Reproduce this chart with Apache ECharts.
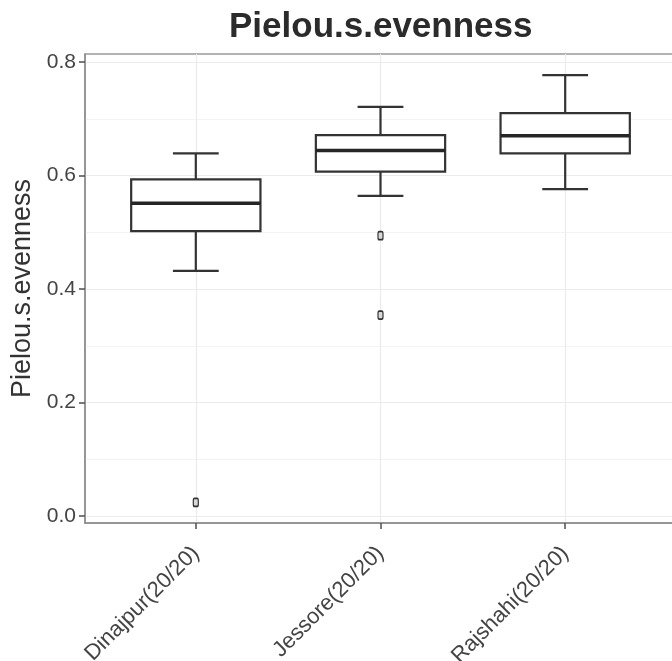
<!DOCTYPE html>
<html>
<head>
<meta charset="utf-8">
<script src="https://cdn.jsdelivr.net/npm/echarts@6/dist/echarts.min.js"></script>
<style>
html,body{margin:0;padding:0;background:#fff;}
#chart{width:672px;height:661px;}
</style>
</head>
<body>
<div id="chart"></div>
<script>
// ---- data ----
const categories = ['Dinajpur(20/20)', 'Jessore(20/20)', 'Rajshahi(20/20)'];
// [lower whisker, Q1, median, Q3, upper whisker]
const boxLower  = [0.432, 0.564, 0.576];
const boxQ1     = [0.502, 0.607, 0.639];
const boxMedian = [0.551, 0.644, 0.670];
const boxQ3     = [0.593, 0.671, 0.710];
const boxUpper  = [0.639, 0.721, 0.777];
// outliers: [category index, value]
const outlierCat = [0, 1, 1];
const outlierVal = [0.024, 0.494, 0.354];
const yTicks = [0.0, 0.2, 0.4, 0.6, 0.8];
const yMinor = [0.1, 0.3, 0.5, 0.7];
const titleText = 'Pielou.s.evenness';
const yName = 'Pielou.s.evenness';

const boxData = categories.map((c, i) => [i, boxLower[i], boxQ1[i], boxMedian[i], boxQ3[i], boxUpper[i]]);
const outlierData = outlierCat.map((c, i) => [c, outlierVal[i]]);
const catIdx = categories.map((c, i) => i);

const FONT = '"Liberation Sans", Arial, Helvetica, sans-serif';
const DARK = '#333333';
const YMIN = -0.01233, YMAX = 0.8141;

const chart = echarts.init(document.getElementById('chart'), null, {renderer: 'canvas'});

function renderBox(params, api) {
  const x = api.value(0);
  const lo = api.value(1), q1 = api.value(2), md = api.value(3), q3 = api.value(4), hi = api.value(5);
  const half = api.size([0.35, 0])[0];
  const capHalf = api.size([0.124, 0])[0];
  const pLo = api.coord([x, lo]), pQ1 = api.coord([x, q1]), pMd = api.coord([x, md]);
  const pQ3 = api.coord([x, q3]), pHi = api.coord([x, hi]);
  const cx = pMd[0];
  const lineStyle = {stroke: DARK, lineWidth: 2.2, fill: null};
  return {
    type: 'group',
    children: [
      {type: 'line', shape: {x1: cx, y1: pHi[1], x2: cx, y2: pQ3[1]}, style: lineStyle},
      {type: 'line', shape: {x1: cx, y1: pQ1[1], x2: cx, y2: pLo[1]}, style: lineStyle},
      {type: 'line', shape: {x1: cx - capHalf, y1: pHi[1], x2: cx + capHalf, y2: pHi[1]}, style: lineStyle},
      {type: 'line', shape: {x1: cx - capHalf, y1: pLo[1], x2: cx + capHalf, y2: pLo[1]}, style: lineStyle},
      {type: 'rect', shape: {x: cx - half, y: pQ3[1], width: 2 * half, height: pQ1[1] - pQ3[1]},
        style: {stroke: DARK, lineWidth: 2.2, fill: '#ffffff'}},
      {type: 'line', shape: {x1: cx - half, y1: pMd[1], x2: cx + half, y2: pMd[1]},
        style: {stroke: '#262626', lineWidth: 3.5}}
    ]
  };
}

const option = {
  backgroundColor: '#ffffff',
  animation: false,
  textStyle: {fontFamily: FONT},
  title: {
    text: titleText,
    left: 229, top: 10, padding: 0,
    textStyle: {fontFamily: FONT, fontSize: 35, fontWeight: 'bold', color: '#2b2b2b'}
  },
  grid: {
    left: 85, top: 54, width: 591, height: 469,
    containLabel: false, outerBoundsMode: 'none',
    show: true, borderColor: '#9a9a9a', borderWidth: 1.5, backgroundColor: 'transparent'
  },
  xAxis: {
    type: 'value', min: -0.6, max: 2.6,
    axisLine: {show: true, onZero: false, lineStyle: {color: '#8c8c8c', width: 1.5}},
    axisTick: {show: true, customValues: catIdx, length: 6, lineStyle: {color: '#4d4d4d', width: 1.5}},
    axisLabel: {
      customValues: catIdx,
      formatter: v => categories[Math.round(v)],
      rotate: 45, margin: 27, fontSize: 22, color: '#444444', fontFamily: FONT
    },
    splitLine: {show: true, lineStyle: {color: '#ebebeb', width: 1.2}}
  },
  yAxis: [{
    type: 'value', min: YMIN, max: YMAX,
    name: yName, nameLocation: 'middle', nameGap: 44,
    nameTextStyle: {fontSize: 27, color: '#333333', fontFamily: FONT},
    axisLine: {show: true, onZero: false, lineStyle: {color: '#8c8c8c', width: 1.5}},
    axisTick: {show: true, customValues: yTicks, length: 6, lineStyle: {color: '#4d4d4d', width: 1.5}},
    axisLabel: {customValues: yTicks, formatter: v => v.toFixed(1), fontSize: 21, color: '#444444', margin: 9, fontFamily: FONT},
    splitLine: {show: true, lineStyle: {color: '#ebebeb', width: 1.2}}
  }, {
    type: 'value', min: YMIN, max: YMAX, position: 'left',
    axisLine: {show: false, onZero: false},
    axisTick: {show: false, customValues: yMinor},
    axisLabel: {show: false, customValues: yMinor},
    splitLine: {show: true, lineStyle: {color: '#f3f3f3', width: 1}}
  }],
  series: [{
    type: 'custom',
    name: 'box',
    renderItem: renderBox,
    encode: {x: 0, y: [1, 2, 3, 4, 5]},
    data: boxData,
    z: 3
  }, {
    type: 'scatter',
    name: 'outliers',
    data: outlierData,
    symbol: 'roundRect',
    symbolSize: [5, 8],
    itemStyle: {color: '#d9d9d9', borderColor: DARK, borderWidth: 1.5, opacity: 1},
    z: 4
  }]
};
chart.setOption(option);
</script>
</body>
</html>
